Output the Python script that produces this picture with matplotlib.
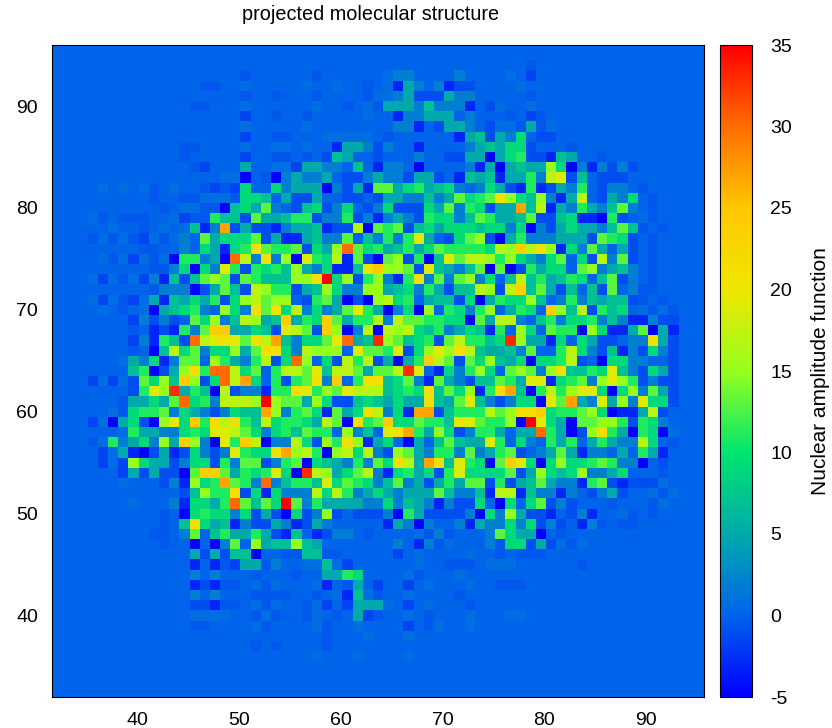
import numpy as np
import matplotlib
matplotlib.use('Agg')
import matplotlib.pyplot as plt
from matplotlib.colors import LinearSegmentedColormap
from matplotlib.transforms import ScaledTranslation

plt.rcParams['font.family'] = ['Liberation Sans', 'DejaVu Sans']
plt.rcParams['axes.unicode_minus'] = False

# Colour classes, one letter per cell
levels = dict(zip('ABCDEFGHIJKLMNOPQRS',
                  [-5, -3, -1, 0, 2, 5, 7, 9, 11, 13, 15, 17, 19, 21, 24, 27, 30, 33, 35]))
# faint ripple of the background
levels.update({'b': -1.5, 'c': -0.5, 'e': 0.7})

x_cells = np.arange(32, 97)
y_cells = np.arange(96, 31, -1)

# One row per y from the top, columns start at x=36, in groups of ten
rows = [
    '',
    '',
    'dddddddddd dddddddddd dddddddddd dddddddddd dddcdddddd',
    'dddddddddd dddddcdddd ddcdddddde EEDDDDEDDD dedbdddddd',
    'dddddddddd dccddedddd deddeddcde BFEDEBCCDD ddeddddddd',
    'dddddddddd dddddcddcd ddcddddcee EFCCCFEEDD dddcdddddd',
    'dddddddddd ccdddedddd ddeddcdecF FFEGEEEBDC eddedddddd',
    'dddddddddd dddddbddcd dcdddddedd BEEFFFDEDD dcdbcddddd',
    'dddddddddd dddddedddd dedddddddd EEBDCFFEDC eecFcedddd',
    'dddddddddd dddddbddcc dddeeeeedc ddddddBFGC FEHDCCdddd',
    'dddddddddc cddddeddee dedDBFFECE ddBDDDDEFG FHHCDDDcdd',
    'dddddddddc dddddbddcc dcdCGFDDCD ddEDDCCFFA FHICCBGFdd cddddddddd',
    'dddddddddd cbdddFddee bFFEEDGDBE EDADDDDEBF AFGFFKHAEB ECECdddddd',
    'dddddddddd dddeeAdcAE FEEFDCCEFE ECFFCDBGFG BFFIELMCGD CCCddddddd',
    'dededecded dcbcbHddHE FFFAECFBJJ FHIFGHEDEH FCBIBCFEID CEEDcddddd',
    'ddddddcddc ceeecHHGDF CCFDDCCDCF FEEGEFJHIJ NKHGKEBFLD CFEHdcdddd',
    'dddddddcde eccAGHFJED CGHCEHDCEH CCCHFJEIHC FFPGLBFEIF EGJEdcdddd',
    'ecdcccddeb ccIGGCJFFG IICEEICEBE FECIHHEGJI FFGJCCGHBB AICDecdddd',
    'ddeddcdede GBEPCFCCBE FFGBCCLAJI JCGHFHHHGH HEHAECFHFF EGJGcdcddd',
    'cececbeceE DJFHHHJCFB BFGEEJDGEI EIMFDCHJKC AFIEEEFFFC JIHCdcdddd',
    'dddddccddE DHFBHINJII JCHFKQJHIF GIFHJIIIIH LKOLNKBHEJ FDFCdcdddd',
    'decebeceAI IEFAQLENEK AMIHLBJCAJ KCIAGMJLLK IKHFEHJDHC LEJCdcdddd',
    'ddddddccEH AHEMICIHIG KFEHBBGNOK KJCMGFEGJA JACIFHHDJK EFGEdcdddd',
    'ebecebEBGC GJKJCJIGGG KKNSHKCIKE BINEJEJKEH DGLGIFGIHD GJCEdcdddd',
    'ddddddcEEE ACFJGCLKII CFGKHEEKKF GHEIFCGGLK CLOGJFCGDG CJDEccdddd',
    'ebecbeFBGF HFICHKLJKK DCIJFACAKL HIDFGGCHAF IHHKGDEIEG FGGCcdcddd',
    'dedcdeAFGH IEDKHENJNH LEHEFJMIFA EHAKDIHEIK DFIHDOKGLC IGHDececdd',
    'ddddbECECD JHKEGLKFGO FIHOJFIILE LJJIIHHAJF LLEDGIEHHI EGEBBECCDD',
    'ddddcdBCBI EJOOFFHGCM LJCOKAELAL KLHGIEFHGB IDKHDJIIAK HBBFJAFBDD',
    'ddddbEBIGC QLMNMJNLPG EHHJMQFGRK JGHICJLIIG HRKFFBHDHF CCDEENFCDD',
    'ddddcdAGLH JEHHKFJNNH ELKKKDMJJI MCHKMKNLGF FGEJDDILHE CGBECHECDD',
    'dddeFEHBEJ JDKIFEILCH QKDHCLILCF AFIOLJCJHK GFHAHHILCD AHHEEDDCDD',
    'ddddGIACFK NIQQLHJDIL LJMGLLJFJJ LRMDBHEIKH DJKJEKNGGI HMGECHFCDD',
    'bebeCJHKGO KCHQLPHDIC IJNEODINNG HJEBJFECGG JIFMMBHIJE KMKICECCDD',
    'ddddCIMKRF IGALCEEBII NMIKJMLLLG HIHNGJHKBI NPGAILIKMM HAHKEJFCDD',
    'dddcFFHFJQ HIELLLKSKJ JFKHCCGHGF HFFNGFJMGE CEHHAMJPFE MFKEMHHCDD',
    'ddecHIIJEH FECEHGGPKE IJHBJFHNLE HBPPCGIIIL JKNNOHIIJK HABBFLCddd',
    'beAFHCAKMH OINLNIGLHI IHFLJANIJO HHJIIGMMJI IKASMHFAJJ KKICIHEddd',
    'dddeIFFEEH IHMMLJHEHI GJIIDKEGDM NPIFKHCEII FDFFQIFACK NIFAIHAedd',
    'ceIEFHEKFO KEAMIOLAEE LHCKINKBFH DAFDGJGFFM IDHEDIFIDF IFEELHDcdd',
    'dbeFBACFBC HECEMIHHNP KLIAKLHLEC KJFEIIEJEF IJCDEFJFBE EDFDIFBddd',
    'dbebKHFFCE HHCIEJJCEI JAHGFEIEJH NLFPNGMIHA JOMHAHKHHI JIEEADCddd',
    'dddbFCFCCA JOOJFIHIMH ARLKFHJLEB HIFHCIMHHH HJCFKHGHKE EFHDDDcddd',
    'dddeddDCEB KHIPJIEQEG IIGMHJIHEG JEFCFIFJJC ICFGJFEEBI JCBCCCeddd',
    'dddddddddC GKIINCHBHE EELHLIEFHF EFFFJGEEGB LLBGEEBEDC EFCDDecedd',
    'ddddedddEB HHFIQJGJHS JEIFFFFEEH EGFEBECCHD AHDHJCECDD dcdddceddd',
    'dddddddcdA HIHHEHCFCA HCEKCDCCCE AIFCCCCEAH EKFCCBDCEB ddecdcdddd',
    'dddddddcdG NHFGBECCFE BCFEdddddB FEAEDDEBFE EHEHCECDBE cdccdddddd',
    'ddddddccdE JDGIFFIFCB GDBCEEDcdd ddecEcdddE JHFFAdcddd',
    'dddddddcdd ADAEJDKFGG KGFddddddd EDBEcedddE cHHCFCeced',
    'dddddddddd FCFCGGAddc cGGccddddd bdeddddedd cdcccddddd',
    'dddddddddd BDBcbFFcEd deeGebdddd ddeddcccde eeddddddcd',
    'dddddddddd EDEdddcddd cddFFIHddd decdddeddd',
    'dddddddddd BCBccdeced ddeBdcFdbd dbdedddedd cccddddddd',
    'dddddddddd EDEdddcccc ddcdeBGecd deddddcddd',
    'dddddddddd CCBccdeced dcebdbFFFe dbdedddcdd',
    'dddddddddd eeeeddcecd dcedcdFbcd dedcdddedd deeddddddd',
    'dddddddddd ccddddecdd ddecddeddd dbdcedded',
    'dddddddddd dddddddddd dddcdddedd dedddddddd',
    'dddddddddd ddddddcdcd dddcdddddd dddddddddd',
    'dddddddddd dddddddddd ddedddeddd dedddddddd',
    '',
    '',
    '',
    '',
]

x_ticks = [40, 50, 60, 70, 80, 90]
y_ticks = [40, 50, 60, 70, 80, 90]
bar_ticks = [-5, 0, 5, 10, 15, 20, 25, 30, 35]

# Colours, every 5 units
bar_colors = ['#0000ff', '#0064eb', '#00aaaa', '#00e66e', '#96ff1e',
              '#f0e600', '#ffc800', '#ff6e00', '#ff0000']

grid = []
for row in rows:
    row = 'dddd' + row.replace(' ', '')
    row = row.ljust(len(x_cells), 'd')
    grid.append([levels.get(c, 0) for c in row])
grid = np.array(grid, dtype=float)

W, H = 832, 728
fig = plt.figure(figsize=(W / 100, H / 100), dpi=100)
ax = fig.add_axes([52 / W, 1 - 697 / H, 652 / W, 652 / H])
cax = fig.add_axes([720 / W, 1 - 697 / H, 32 / W, 652 / H])

cmap = LinearSegmentedColormap.from_list('nuclear', bar_colors, N=256)
mesh = ax.pcolormesh(x_cells, y_cells, grid, shading='nearest', cmap=cmap, vmin=-5, vmax=35)
ax.set_xlim(32, 96)
ax.set_ylim(32, 96)

ax.set_xticks(x_ticks)
ax.set_yticks(y_ticks)
ax.tick_params(length=0, labelsize=14, colors='black')
ax.tick_params(axis='x', pad=11)
ax.tick_params(axis='y', pad=10)
# the x labels sit a little right of their cells in the original
for label in ax.get_xticklabels():
    label.set_transform(label.get_transform() + ScaledTranslation(3.5 / 100, 0, fig.dpi_scale_trans))

cbar = fig.colorbar(mesh, cax=cax, ticks=bar_ticks)
cbar.ax.tick_params(length=0, labelsize=14, pad=13)

fig.text(821 / W, 1 - 371 / H, 'Nuclear amplitude function', fontsize=15, rotation=90,
         ha='center', va='center')
fig.text(371 / W, 1 - 15 / H, 'projected molecular structure', fontsize=14.3, ha='center', va='center')

fig.savefig('out.png', dpi=100)
